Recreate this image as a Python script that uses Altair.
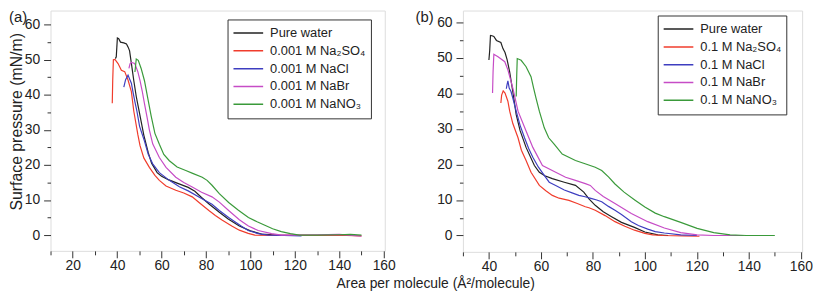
import altair as alt
import pandas as pd

FONT = "Liberation Sans"

panel_labels = ["(a)", "(b)"]
x_title = "Area per molecule (Å²/molecule)"
y_title = "Surface pressure (mN/m)"

series_a = ["Pure water", "0.001 M Na₂SO₄", "0.001 M NaCl", "0.001 M NaBr", "0.001 M NaNO₃"]
series_b = ["Pure water", "0.1 M Na₂SO₄", "0.1 M NaCl", "0.1 M NaBr", "0.1 M NaNO₃"]
colors = ["#222222", "#f03c2c", "#3e3ec0", "#c64cc6", "#3a9a3a"]

# ---------------- panel (a): 0.001 M ----------------
pw_a_x = [39.2, 39.6, 40.1, 40.7, 41.5, 43.0, 44.2, 45.0, 45.6, 46.5, 47.5, 48.6, 50.0, 52.0, 54.0, 55.5, 58.0, 60.0, 63.0, 67.0, 72.0, 75.0, 78.0, 81.5, 86.0, 90.0, 95.0, 100.0, 105.0, 112.0]
pw_a_y = [50.3, 50.8, 56.2, 56.0, 55.0, 54.8, 54.5, 53.5, 52.5, 48.5, 44.0, 39.5, 35.0, 28.5, 23.5, 20.5, 17.8, 16.8, 15.8, 14.8, 13.6, 12.5, 10.7, 8.8, 6.5, 4.6, 2.6, 1.2, 0.3, 0.0]

so4_a_x = [37.8, 38.0, 38.3, 39.0, 40.4, 41.9, 43.4, 44.9, 46.4, 47.5, 49.3, 50.3, 52.0, 54.5, 57.0, 59.0, 62.0, 66.4, 70.0, 73.8, 77.0, 81.3, 84.2, 87.2, 91.6, 95.0, 99.0, 102.0, 110.0, 120.0, 130.0, 140.0, 150.0]
so4_a_y = [37.6, 44.0, 50.0, 50.1, 48.9, 47.0, 46.6, 44.2, 40.9, 35.3, 28.7, 25.5, 22.0, 19.3, 17.0, 15.6, 14.0, 12.8, 12.0, 10.9, 9.2, 7.0, 5.6, 4.3, 2.6, 1.4, 0.5, 0.0, -0.1, 0.0, -0.1, 0.0, -0.2]

cl_a_x = [43.0, 43.8, 44.9, 45.6, 46.4, 47.1, 48.0, 48.9, 50.1, 52.3, 54.0, 56.0, 59.0, 63.5, 68.0, 72.0, 78.0, 82.7, 86.0, 90.2, 93.0, 96.0, 99.0, 103.5, 108.0, 115.0, 123.0]
cl_a_y = [42.2, 44.3, 45.6, 44.5, 43.3, 40.9, 38.0, 35.3, 31.0, 26.8, 23.0, 20.3, 17.8, 15.6, 13.8, 12.6, 10.4, 8.8, 7.0, 5.0, 3.8, 2.5, 1.3, 0.4, 0.0, -0.1, -0.2]

br_a_x = [45.3, 45.8, 46.4, 47.9, 49.3, 50.3, 51.3, 52.3, 53.5, 54.5, 56.0, 59.0, 62.0, 66.4, 70.0, 73.8, 78.0, 82.7, 86.0, 90.2, 95.0, 99.1, 103.5, 109.5, 114.0, 120.0, 130.0, 140.0, 150.0]
br_a_y = [47.5, 48.8, 49.2, 48.9, 46.6, 44.0, 41.0, 37.5, 33.5, 30.0, 26.0, 22.1, 19.3, 16.5, 15.0, 13.7, 12.2, 10.9, 9.4, 7.0, 4.4, 2.6, 1.3, 0.4, 0.0, 0.0, 0.1, 0.2, -0.3]

no3_a_x = [48.0, 48.6, 49.5, 50.8, 52.3, 53.8, 55.3, 57.0, 59.0, 61.0, 63.5, 67.0, 70.9, 74.0, 78.3, 80.5, 82.7, 86.0, 90.2, 94.6, 99.1, 103.0, 106.5, 110.0, 113.9, 118.0, 122.0, 130.0, 140.0, 145.0, 150.0]
no3_a_y = [46.5, 50.2, 49.8, 47.5, 44.0, 39.0, 34.0, 29.0, 25.9, 23.0, 21.2, 19.4, 18.4, 17.6, 16.5, 15.6, 14.2, 11.8, 9.3, 7.1, 5.0, 3.8, 2.8, 1.8, 1.0, 0.4, 0.0, 0.0, 0.1, 0.2, 0.0]

# ---------------- panel (b): 0.1 M ----------------
pw_b_x = [40.0, 40.3, 40.6, 41.2, 41.9, 42.9, 44.6, 45.4, 46.2, 47.0, 48.0, 49.2, 50.5, 52.0, 54.3, 57.5, 59.4, 61.5, 64.4, 69.0, 73.3, 76.5, 78.5, 80.9, 84.0, 87.2, 91.0, 96.0, 100.0, 105.0, 109.0]
pw_b_y = [49.4, 52.0, 56.3, 56.2, 56.0, 54.9, 54.3, 52.6, 51.5, 49.5, 46.0, 40.5, 34.0, 29.5, 24.8, 19.7, 17.8, 16.8, 16.0, 15.0, 14.1, 12.2, 10.3, 8.5, 6.7, 5.3, 3.7, 2.3, 1.0, 0.2, 0.0]

so4_b_x = [44.6, 44.9, 45.5, 46.2, 47.3, 48.0, 49.2, 51.2, 52.5, 54.3, 56.2, 59.4, 61.9, 64.4, 67.0, 70.8, 74.0, 77.1, 78.5, 80.9, 84.7, 88.5, 92.3, 96.0, 100.0, 103.0, 107.0, 115.0, 121.0]
so4_b_y = [37.3, 39.5, 40.7, 40.1, 37.8, 35.0, 31.5, 27.5, 24.0, 21.1, 17.8, 14.1, 12.6, 11.3, 10.5, 9.9, 9.0, 8.1, 7.8, 7.1, 5.6, 3.9, 2.6, 1.5, 0.6, 0.2, 0.0, -0.1, -0.2]

cl_b_x = [46.7, 47.0, 47.3, 47.8, 48.5, 49.2, 50.5, 52.0, 53.7, 55.3, 56.9, 59.0, 61.3, 63.2, 65.7, 69.0, 72.0, 74.6, 77.0, 79.6, 81.5, 83.4, 86.0, 88.5, 91.0, 94.8, 97.5, 101.1, 104.0, 107.5, 113.8, 120.0]
cl_b_y = [41.3, 42.5, 43.5, 41.5, 40.5, 38.7, 35.0, 31.0, 27.5, 24.5, 22.0, 19.3, 16.9, 15.0, 14.1, 12.8, 12.0, 11.3, 10.9, 10.4, 10.0, 9.5, 8.2, 7.1, 5.9, 3.9, 2.8, 1.8, 1.1, 0.7, 0.2, 0.0]

br_b_x = [41.4, 41.6, 41.9, 43.5, 46.1, 47.3, 49.2, 51.2, 54.3, 56.9, 60.6, 65.7, 69.5, 73.3, 77.1, 79.0, 80.9, 84.0, 88.5, 94.8, 101.1, 107.5, 113.8, 120.1, 126.5, 138.0]
br_b_y = [40.1, 46.0, 51.0, 50.3, 48.9, 46.6, 41.5, 35.0, 29.4, 24.8, 19.7, 17.8, 16.4, 15.5, 14.6, 14.1, 12.7, 11.0, 9.0, 6.2, 3.9, 2.1, 0.8, 0.2, 0.0, 0.0]

no3_b_x = [50.5, 50.7, 50.9, 52.4, 54.3, 56.2, 57.2, 58.1, 59.4, 61.3, 63.0, 65.1, 68.2, 73.3, 77.0, 80.9, 83.4, 86.0, 88.5, 92.0, 96.1, 100.0, 104.0, 107.5, 113.8, 120.1, 126.5, 132.8, 139.0, 150.0]
no3_b_y = [39.1, 45.0, 49.8, 49.3, 47.5, 44.7, 41.5, 38.7, 35.0, 30.3, 27.5, 25.7, 22.9, 21.1, 20.2, 19.2, 18.3, 16.5, 14.5, 12.2, 10.0, 8.0, 6.3, 5.3, 3.7, 2.0, 0.8, 0.2, 0.0, 0.0]

# axis tick values
x_ticks_a = list(range(10, 161, 10))
x_ticks_b = list(range(30, 161, 10))
y_ticks_a = list(range(0, 61, 5))
y_ticks_b = list(range(0, 61, 5))


def build_df(names, xs, ys):
    rows = []
    for name, xv, yv in zip(names, xs, ys):
        for i, (a, b) in enumerate(zip(xv, yv)):
            rows.append({"series": name, "x": a, "y": b, "order": i})
    return pd.DataFrame(rows)


df_a = build_df(series_a, [pw_a_x, so4_a_x, cl_a_x, br_a_x, no3_a_x],
                [pw_a_y, so4_a_y, cl_a_y, br_a_y, no3_a_y])
df_b = build_df(series_b, [pw_b_x, so4_b_x, cl_b_x, br_b_x, no3_b_x],
                [pw_b_y, so4_b_y, cl_b_y, br_b_y, no3_b_y])


def x_axis(values, title=None, **kw):
    return alt.Axis(
        values=values,
        labelExpr="datum.value % 20 === 0 ? datum.label : ''",
        tickSize={"condition": {"test": "datum.value % 20 === 0", "value": 7}, "value": 4},
        domain=False, grid=False, title=title,
        labelFontSize=14, labelPadding=1, labelFont=FONT, labelColor="#222",
        tickColor="#333", titleFont=FONT, titleFontSize=14, titleFontWeight="normal",
        titleColor="#222", **kw)


def y_axis(values, title=None, **kw):
    return alt.Axis(
        values=values,
        labelExpr="datum.value % 10 === 0 ? datum.label : ''",
        tickSize={"condition": {"test": "datum.value % 10 === 0", "value": 7}, "value": 3.5},
        domain=False, grid=False, title=title,
        labelFontSize=14, labelPadding=4, labelFont=FONT, labelColor="#222",
        tickColor="#333", titleFont=FONT, titleFontSize=16, titleFontWeight="normal",
        titleColor="#222", **kw)


def legend(lx, ly):
    return alt.Legend(
        orient="none", legendX=lx, legendY=ly, symbolType="stroke", symbolSize=900,
        symbolStrokeWidth=1.5, clipHeight=17.5, rowPadding=0, padding=5,
        strokeColor="#333", fillColor="white", labelFontSize=13, labelFont=FONT,
        labelColor="#222", labelOffset=6)


def panel(df, names, xdom, ydom, w, h, xax, yax, leg, label, label_x):
    lines = alt.Chart(df).mark_line(strokeWidth=1.2).encode(
        x=alt.X("x:Q", scale=alt.Scale(domain=xdom, nice=False, zero=False), axis=xax),
        y=alt.Y("y:Q", scale=alt.Scale(domain=ydom, nice=False, zero=False), axis=yax),
        color=alt.Color("series:N", title=None,
                        scale=alt.Scale(domain=names, range=colors), legend=leg),
        order="order:Q",
    )
    tag = alt.Chart(pd.DataFrame({"label": [label]})).mark_text(
        align="left", baseline="top", fontSize=15, font=FONT, color="#222"
    ).encode(x=alt.value(label_x), y=alt.value(0), text="label:N")
    return alt.layer(lines, tag).properties(width=w, height=h)


left = panel(
    df_a, series_a, [10, 160.5], [-4.5, 64.0], 338, 243,
    x_axis(x_ticks_a),
    y_axis(y_ticks_a, title=y_title, titleX=-34, titleY=112, titleBaseline="middle",
           titleAlign="center", titleAngle=270),
    legend(179, 9), panel_labels[0], -42)

right = panel(
    df_b, series_b, [30, 160.5], [-4.6, 63.3], 343, 244,
    x_axis(x_ticks_b, title=x_title, titleX=-28, titleY=36, titleBaseline="alphabetic",
           titleAlign="center"),
    y_axis(y_ticks_b),
    legend(197, 5), panel_labels[1], -48)

chart = alt.hconcat(left, right, spacing=79, bounds="flush").resolve_scale(
    color="independent"
).properties(
    padding={"left": 0, "top": 0, "right": 0, "bottom": 0}
).configure_view(stroke="#333", strokeWidth=1).configure(font=FONT)

chart.save("out.html", embed_options={"renderer": "svg", "actions": False})
